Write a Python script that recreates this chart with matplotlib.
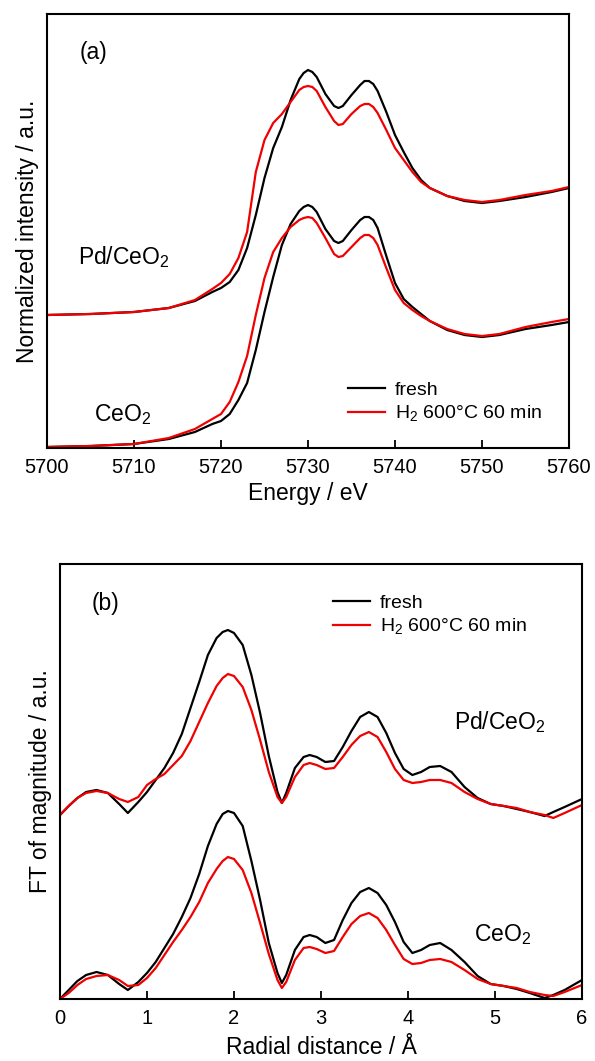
import numpy as np
import matplotlib
matplotlib.use('Agg')
import matplotlib.pyplot as plt

plt.rcParams['font.family'] = ['Liberation Sans', 'DejaVu Sans']
plt.rcParams['mathtext.fontset'] = 'custom'
plt.rcParams['mathtext.rm'] = 'Liberation Sans'

# ===========================================
# (a) XANES, energy in eV, intensity relative to each curve's baseline
# ===========================================
energy = [5700, 5705, 5710, 5714, 5717,
          5719, 5720, 5721, 5722, 5723,
          5724, 5725, 5726, 5727, 5728,
          5729, 5729.5, 5730, 5730.5, 5731,
          5732, 5733, 5733.5, 5734, 5735,
          5736, 5736.5, 5737, 5737.5, 5738,
          5739, 5740, 5741, 5742, 5743,
          5744, 5746, 5748, 5750, 5752,
          5755, 5758, 5760]

pd_fresh = [0.00, 0.01, 0.03, 0.07, 0.14,
            0.23, 0.27, 0.33, 0.45, 0.67,
            1.00, 1.37, 1.67, 1.88, 2.15,
            2.36, 2.42, 2.45, 2.43, 2.38,
            2.21, 2.09, 2.07, 2.09, 2.20,
            2.30, 2.34, 2.34, 2.31, 2.24,
            2.03, 1.80, 1.63, 1.47, 1.35,
            1.27, 1.19, 1.14, 1.12, 1.14,
            1.18, 1.23, 1.27]
pd_h2 = [0.00, 0.01, 0.03, 0.07, 0.15,
         0.26, 0.32, 0.41, 0.57, 0.83,
         1.43, 1.75, 1.92, 2.01, 2.13,
         2.25, 2.28, 2.29, 2.28, 2.24,
         2.08, 1.94, 1.90, 1.91, 2.01,
         2.09, 2.11, 2.11, 2.08, 2.02,
         1.85, 1.67, 1.55, 1.43, 1.33,
         1.27, 1.19, 1.15, 1.13, 1.15,
         1.20, 1.24, 1.28]
ce_fresh = [0.00, 0.01, 0.03, 0.08, 0.15,
            0.23, 0.26, 0.33, 0.47, 0.64,
            0.97, 1.35, 1.70, 2.02, 2.23,
            2.36, 2.40, 2.42, 2.40, 2.35,
            2.18, 2.06, 2.04, 2.06, 2.17,
            2.27, 2.30, 2.30, 2.27, 2.19,
            1.91, 1.64, 1.48, 1.40, 1.33,
            1.26, 1.17, 1.12, 1.10, 1.12,
            1.18, 1.22, 1.25]
ce_h2 = [0.00, 0.01, 0.03, 0.09, 0.18,
         0.28, 0.33, 0.45, 0.65, 0.91,
         1.32, 1.69, 1.95, 2.09, 2.20,
         2.27, 2.29, 2.30, 2.29, 2.24,
         2.09, 1.93, 1.90, 1.91, 2.00,
         2.09, 2.12, 2.12, 2.09, 2.02,
         1.79, 1.57, 1.44, 1.37, 1.31,
         1.26, 1.18, 1.13, 1.11, 1.13,
         1.20, 1.25, 1.28]
xanes_offset_pd = 1.33
xanes_offset_ce = 0.01

# ===========================================
# (b) FT-EXAFS, radial distance in Angstrom
# ===========================================
radial = [0, 0.1, 0.2, 0.3, 0.42,
          0.55, 0.68, 0.78, 0.9, 1.0,
          1.1, 1.2, 1.3, 1.4, 1.5,
          1.6, 1.7, 1.8, 1.87, 1.93,
          2.0, 2.1, 2.2, 2.3, 2.4,
          2.5, 2.55, 2.6, 2.7, 2.8,
          2.87, 2.95, 3.05, 3.15, 3.25,
          3.35, 3.45, 3.55, 3.65, 3.75,
          3.85, 3.95, 4.05, 4.15, 4.25,
          4.37, 4.5, 4.65, 4.8, 4.95,
          5.1, 5.25, 5.4, 5.57, 5.67,
          5.8, 6.0]

ft_pd_fresh = [0.00, 0.09, 0.17, 0.23, 0.25,
               0.22, 0.11, 0.02, 0.13, 0.23,
               0.35, 0.47, 0.62, 0.81, 1.07,
               1.33, 1.60, 1.77, 1.83, 1.85,
               1.82, 1.70, 1.40, 1.02, 0.59,
               0.23, 0.12, 0.22, 0.47, 0.58,
               0.60, 0.58, 0.53, 0.54, 0.68,
               0.84, 0.98, 1.03, 0.98, 0.82,
               0.62, 0.46, 0.40, 0.43, 0.48,
               0.49, 0.43, 0.28, 0.17, 0.11,
               0.09, 0.06, 0.03, -0.01, 0.03,
               0.08, 0.16]
ft_pd_h2 = [0.00, 0.09, 0.17, 0.22, 0.24,
            0.22, 0.16, 0.13, 0.18, 0.30,
            0.36, 0.41, 0.50, 0.59, 0.74,
            0.93, 1.12, 1.29, 1.37, 1.41,
            1.39, 1.28, 1.05, 0.75, 0.43,
            0.18, 0.12, 0.18, 0.38, 0.50,
            0.52, 0.50, 0.46, 0.47, 0.58,
            0.70, 0.79, 0.83, 0.78, 0.63,
            0.46, 0.35, 0.32, 0.33, 0.35,
            0.35, 0.32, 0.23, 0.16, 0.11,
            0.09, 0.07, 0.03, 0.00, -0.03,
            0.02, 0.10]
ft_ce_fresh = [0.00, 0.09, 0.18, 0.24, 0.27,
               0.24, 0.15, 0.09, 0.17, 0.26,
               0.37, 0.51, 0.65, 0.82, 1.01,
               1.25, 1.53, 1.75, 1.85, 1.88,
               1.86, 1.73, 1.38, 0.99, 0.56,
               0.26, 0.16, 0.24, 0.49, 0.62,
               0.64, 0.62, 0.56, 0.59, 0.79,
               0.96, 1.07, 1.11, 1.06, 0.94,
               0.77, 0.57, 0.46, 0.49, 0.54,
               0.56, 0.49, 0.37, 0.23, 0.15,
               0.13, 0.10, 0.06, 0.01, 0.04,
               0.09, 0.19]
ft_ce_h2 = [0.00, 0.06, 0.14, 0.20, 0.23,
            0.24, 0.19, 0.13, 0.14, 0.21,
            0.31, 0.44, 0.57, 0.69, 0.82,
            0.97, 1.16, 1.30, 1.38, 1.42,
            1.40, 1.29, 1.06, 0.76, 0.45,
            0.19, 0.11, 0.17, 0.39, 0.51,
            0.52, 0.50, 0.46, 0.48, 0.62,
            0.75, 0.83, 0.86, 0.81, 0.69,
            0.54, 0.40, 0.35, 0.36, 0.39,
            0.40, 0.37, 0.29, 0.20, 0.15,
            0.13, 0.11, 0.07, 0.04, 0.03,
            0.07, 0.14]
ft_offset_pd = 1.84
ft_offset_ce = 0.0

legend_labels = ['fresh', 'H$_2$ 600\u00b0C 60 min']
red = '#f00000'

fig = plt.figure(figsize=(5.95, 10.61), dpi=100)

# ---------------- panel (a) ----------------
ax = fig.add_axes([47 / 595, 613 / 1061, 522 / 595, 434 / 1061])
e = np.array(energy)
ax.plot(e, np.array(pd_fresh) + xanes_offset_pd, color='black', lw=1.6, label=legend_labels[0])
ax.plot(e, np.array(pd_h2) + xanes_offset_pd, color=red, lw=1.6, label=legend_labels[1])
ax.plot(e, np.array(ce_fresh) + xanes_offset_ce, color='black', lw=1.6)
ax.plot(e, np.array(ce_h2) + xanes_offset_ce, color=red, lw=1.6)
ax.set_xlim(5700, 5760)
ax.set_ylim(0, 4.34)
ax.set_xticks(range(5700, 5761, 10))
ax.set_yticks([])
ax.tick_params(axis='x', direction='in', length=6, width=1.3, labelsize=14.5, pad=7)
ax.set_xlabel('Energy / eV', fontsize=16.5, labelpad=4)
ax.set_ylabel('Normalized intensity / a.u.', fontsize=16.5, labelpad=6)
for s in ax.spines.values():
    s.set_linewidth(1.5)
ax.text(0.090, 0.912, '(a)', transform=ax.transAxes, fontsize=16.5, ha='center', va='center')
ax.text(0.148, 0.440, 'Pd/CeO$_2$', transform=ax.transAxes, fontsize=16.5, ha='center', va='center')
ax.text(0.144, 0.078, 'CeO$_2$', transform=ax.transAxes, fontsize=16.5, ha='center', va='center')
ax.legend(loc='upper left', bbox_to_anchor=(0.577, 0.153), frameon=False, fontsize=14,
          handlelength=1.9, handletextpad=0.5, borderpad=0, borderaxespad=0, labelspacing=0.25)

# ---------------- panel (b) ----------------
ax2 = fig.add_axes([60 / 595, 62 / 1061, 522 / 595, 435 / 1061])
r = np.array(radial)
ax2.plot(r, np.array(ft_pd_fresh) + ft_offset_pd, color='black', lw=1.6, label=legend_labels[0])
ax2.plot(r, np.array(ft_pd_h2) + ft_offset_pd, color=red, lw=1.6, label=legend_labels[1])
ax2.plot(r, np.array(ft_ce_fresh) + ft_offset_ce, color='black', lw=1.6)
ax2.plot(r, np.array(ft_ce_h2) + ft_offset_ce, color=red, lw=1.6)
ax2.set_xlim(0, 6)
ax2.set_ylim(0, 4.35)
ax2.set_xticks(range(0, 7))
ax2.set_yticks([])
ax2.tick_params(axis='x', direction='in', length=6, width=1.3, labelsize=14.5, pad=7)
ax2.set_xlabel('Radial distance / \u00c5', fontsize=16.5, labelpad=6)
ax2.set_ylabel('FT of magnitude / a.u.', fontsize=16.5, labelpad=6)
for s in ax2.spines.values():
    s.set_linewidth(1.5)
ax2.text(0.088, 0.910, '(b)', transform=ax2.transAxes, fontsize=16.5, ha='center', va='center')
ax2.text(0.843, 0.637, 'Pd/CeO$_2$', transform=ax2.transAxes, fontsize=16.5, ha='center', va='center')
ax2.text(0.847, 0.149, 'CeO$_2$', transform=ax2.transAxes, fontsize=16.5, ha='center', va='center')
ax2.legend(loc='upper left', bbox_to_anchor=(0.523, 0.930), frameon=False, fontsize=14,
           handlelength=1.9, handletextpad=0.5, borderpad=0, borderaxespad=0, labelspacing=0.25)

fig.savefig('out.png', dpi=100)
